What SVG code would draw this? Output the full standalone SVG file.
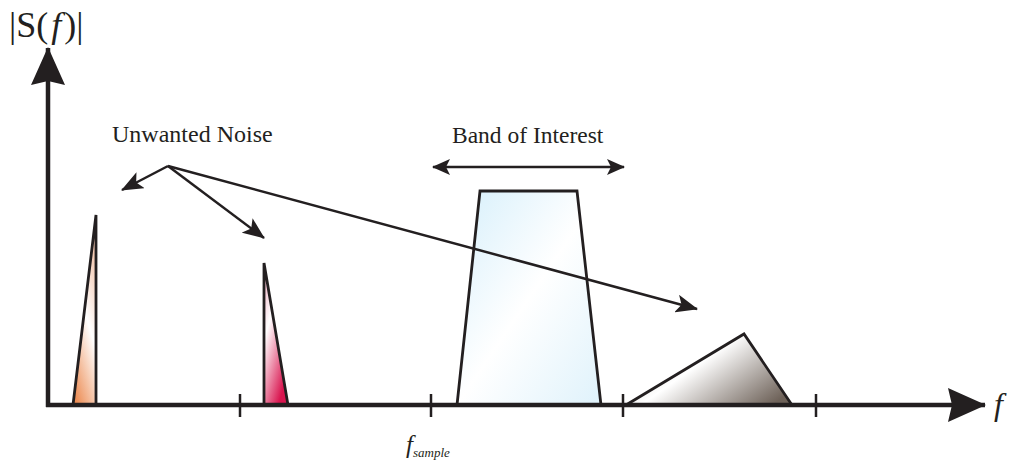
<svg xmlns="http://www.w3.org/2000/svg" width="1013" height="464" viewBox="0 0 1013 464">
<style>
.ax{stroke:#231f20;stroke-width:4.5;fill:none}
.tk{stroke:#231f20;stroke-width:2.5;fill:none}
.sh{stroke:#231f20;stroke-width:2.8;stroke-linejoin:miter}
.ar{stroke:#231f20;stroke-width:2.5;fill:none}
.t{font-family:"Liberation Serif",serif;fill:#231f20}
</style>
<defs>
<marker id="ah" markerUnits="userSpaceOnUse" viewBox="0 0 22 18" refX="21" refY="9" markerWidth="22" markerHeight="18" orient="auto-start-reverse">
<path d="M0,0 L22,9 L0,18 L5,9 z" fill="#231f20"/>
</marker>
<marker id="bh" markerUnits="userSpaceOnUse" viewBox="0 0 18 16" refX="17" refY="8" markerWidth="18" markerHeight="16" orient="auto-start-reverse">
<path d="M0,0 L18,8 L0,16 L4,8 z" fill="#231f20"/>
</marker>
<marker id="axh" markerUnits="userSpaceOnUse" viewBox="0 0 38 34" refX="37" refY="17" markerWidth="38" markerHeight="34" orient="auto">
<path d="M0,0 L38,17 L0,34 L4,17 z" fill="#231f20"/>
</marker>
<linearGradient id="gOr" x1="0" y1="1" x2="0.4" y2="0">
<stop offset="0" stop-color="#ea7f40"/>
<stop offset="0.6" stop-color="#ffffff"/>
<stop offset="1" stop-color="#f3c9b2"/>
</linearGradient>
<linearGradient id="gPk" x1="0.6" y1="1" x2="0" y2="0">
<stop offset="0" stop-color="#d9154f"/>
<stop offset="0.6" stop-color="#ffffff"/>
<stop offset="1" stop-color="#eea3ba"/>
</linearGradient>
<linearGradient id="gBl" x1="0" y1="0" x2="1" y2="1">
<stop offset="0" stop-color="#d6effb"/>
<stop offset="0.5" stop-color="#ffffff"/>
<stop offset="1" stop-color="#dff2fb"/>
</linearGradient>
<linearGradient id="gGr" x1="0" y1="0.2" x2="1" y2="0.8">
<stop offset="0" stop-color="#cbc5be"/>
<stop offset="0.42" stop-color="#ffffff"/>
<stop offset="1" stop-color="#6e6259"/>
</linearGradient>
</defs>

<g id="spike1"><polygon class="sh" fill="url(#gOr)" points="73,405 96,215 96,405"/></g>
<g id="spike2"><polygon class="sh" fill="url(#gPk)" points="264,263 264,405 288,405"/></g>
<g id="band"><polygon class="sh" fill="url(#gBl)" points="457,405 480,191 577,191 601,405"/></g>
<g id="hump"><polygon class="sh" fill="url(#gGr)" points="626,405 744,334 792,405"/></g>

<g id="axes">
<line class="ax" x1="48" y1="407" x2="48" y2="48" marker-end="url(#axh)"/>
<line class="ax" x1="46" y1="405" x2="985" y2="405" marker-end="url(#axh)"/>
<line class="tk" x1="240" y1="394" x2="240" y2="417"/>
<line class="tk" x1="431" y1="394" x2="431" y2="417"/>
<line class="tk" x1="623" y1="394" x2="623" y2="417"/>
<line class="tk" x1="816" y1="394" x2="816" y2="417"/>
</g>

<g id="connectors">
<line class="ar" x1="168" y1="166" x2="122" y2="190" marker-end="url(#ah)"/>
<line class="ar" x1="168" y1="166" x2="264" y2="238" marker-end="url(#ah)"/>
<line class="ar" x1="168" y1="166" x2="697" y2="309" marker-end="url(#ah)"/>
<line class="ar" x1="433" y1="167" x2="624" y2="167" marker-start="url(#bh)" marker-end="url(#bh)"/>
</g>

<g id="labels">
<text class="t" x="9" y="37" font-size="36">|S(<tspan font-style="italic" dx="3">f</tspan><tspan dx="3">)|</tspan></text>
<text class="t" x="112" y="142" font-size="24">Unwanted Noise</text>
<text class="t" x="452" y="143" font-size="23.5">Band of Interest</text>
<text class="t" x="994" y="415" font-size="32" font-style="italic">f</text>
<text class="t" x="406" y="453" font-size="25" font-style="italic">f<tspan font-size="13" dy="4">sample</tspan></text>
</g>
</svg>
